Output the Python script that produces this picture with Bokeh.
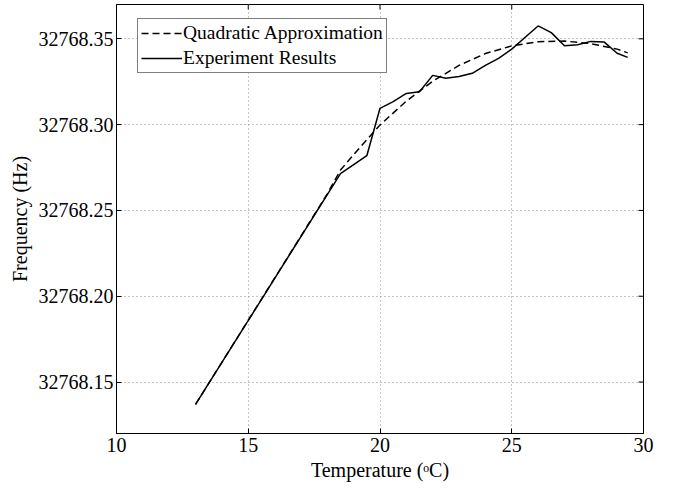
import math
from bokeh.plotting import figure
from bokeh.models import (Range1d, FixedTicker, PrintfTickFormatter,
                          Legend, LegendItem)
from bokeh.embed import file_html
from bokeh.resources import INLINE

# ---- data ----
quad_temp = [13.0, 14.0, 15.0, 16.0, 17.0, 18.0, 18.5, 19.0, 19.5, 20.0,
             21.0, 22.0, 23.0, 24.0, 25.0, 26.0, 27.0, 28.0, 29.0, 29.4]
quad_freq = [32768.1370, 32768.1615, 32768.1860, 32768.2105, 32768.2350,
             32768.2597, 32768.2735, 32768.2825, 32768.2912, 32768.2998,
             32768.3137, 32768.3253, 32768.3345, 32768.3414, 32768.3459,
             32768.3483, 32768.3487, 32768.3472, 32768.3440, 32768.3418]

exp_temp = [13.0, 18.5, 19.5, 20.0, 20.5, 21.0, 21.5, 22.0, 22.5, 23.0,
            23.5, 24.0, 24.5, 25.0, 25.5, 26.0, 26.5, 27.0, 27.5, 28.0,
            28.5, 29.0, 29.4]
exp_freq = [32768.1370, 32768.2714, 32768.2819, 32768.3095, 32768.3134,
            32768.3182, 32768.3192, 32768.3287, 32768.3270, 32768.3280,
            32768.3299, 32768.3345, 32768.3386, 32768.3440, 32768.3508,
            32768.3575, 32768.3536, 32768.3460, 32768.3466, 32768.3485,
            32768.3482, 32768.3416, 32768.3392]

x_ticks = [10, 15, 20, 25, 30]
y_ticks = [32768.15, 32768.20, 32768.25, 32768.30, 32768.35]
x_min, x_max = 10, 30
y_min, y_max = 32768.12, 32768.37

label_quad = "Quadratic Approximation"
label_exp = "Experiment Results"
x_label = "Temperature (\u1d52C)"
y_label = "Frequency (Hz)"

FONT = "Liberation Serif"
FS = "20px"
FS_LEG = "19.5px"

p = figure(output_backend="svg", toolbar_location=None,
           frame_width=527, frame_height=429,
           min_border_left=116, min_border_right=30,
           min_border_top=4, min_border_bottom=50,
           x_range=Range1d(x_min, x_max), y_range=Range1d(y_min, y_max),
           background_fill_color="white", border_fill_color="white")

p.outline_line_color = "black"
p.outline_line_width = 1

l1 = p.line(quad_temp, quad_freq, line_color="black", line_width=1.5,
            line_dash="7 4")
l2 = p.line(exp_temp, exp_freq, line_color="black", line_width=1.5)

# axes
for ax in (p.xaxis[0], p.yaxis[0]):
    ax.major_label_text_font = FONT
    ax.major_label_text_font_size = FS
    ax.major_label_text_color = "black"
    ax.axis_label_text_font = FONT
    ax.axis_label_text_font_size = FS
    ax.axis_label_text_font_style = "normal"
    ax.axis_label_text_color = "black"
    ax.axis_line_color = "black"
    ax.major_tick_in = 5
    ax.major_tick_out = 0
    ax.minor_tick_in = 0
    ax.minor_tick_out = 0
    ax.major_tick_line_color = "black"

p.xaxis[0].ticker = FixedTicker(ticks=x_ticks)
p.yaxis[0].ticker = FixedTicker(ticks=y_ticks)
p.yaxis[0].formatter = PrintfTickFormatter(format="%.2f")
p.xaxis[0].axis_label = x_label
p.yaxis[0].axis_label = y_label
p.xaxis[0].major_label_standoff = 4
p.yaxis[0].major_label_standoff = 3
p.xaxis[0].axis_label_standoff = 4
p.yaxis[0].axis_label_standoff = 5

# inward tick marks on the top and right edges of the box
p.ray(x=x_ticks, y=[y_max] * len(x_ticks), length=5, length_units="screen",
      angle=-math.pi / 2, line_color="black", line_width=1)
p.ray(x=[x_max] * len(y_ticks), y=y_ticks, length=5, length_units="screen",
      angle=math.pi, line_color="black", line_width=1)

# grid
p.xgrid.ticker = FixedTicker(ticks=x_ticks)
p.ygrid.ticker = FixedTicker(ticks=y_ticks)
for g in (p.xgrid[0], p.ygrid[0]):
    g.grid_line_color = "#8c8c8c"
    g.grid_line_dash = "1 3"
    g.grid_line_width = 1

legend = Legend(items=[LegendItem(label=label_quad, renderers=[l1]),
                       LegendItem(label=label_exp, renderers=[l2])],
                location=(21, 360), margin=0, padding=3, spacing=3,
                glyph_width=41, glyph_height=20, label_height=20,
                label_standoff=1, label_text_font=FONT,
                label_text_font_size=FS_LEG, label_text_color="black",
                border_line_color="black", border_line_width=1,
                background_fill_color="white", background_fill_alpha=1)
p.add_layout(legend, "center")

open("out.html", "w").write(file_html(p, INLINE))
